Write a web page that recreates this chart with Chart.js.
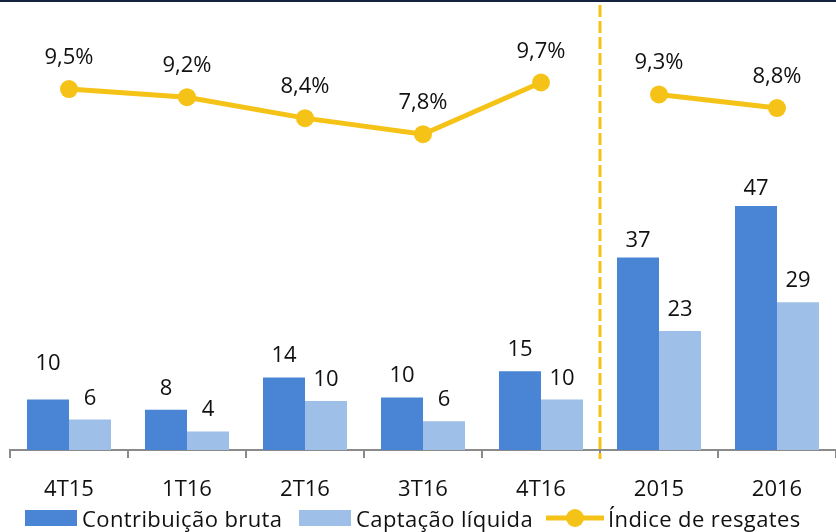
<!DOCTYPE html>
<html lang="pt-BR">
<head>
  <meta charset="UTF-8" />
  <title>Contribuição bruta, captação líquida e índice de resgates</title>
  <script src="https://cdn.jsdelivr.net/npm/chart.js"></script>
  <style>
    html, body {
      margin: 0;
      padding: 0;
      background: #fff;
    }
    #wrap {
      width: 836px;
      height: 532px;
    }
  </style>
</head>
<body>
  <div id="wrap"><canvas id="chart" width="836" height="532"></canvas></div>

  <script>
    // Data (R$ bi for bars, % for the line)
    const periods = ['4T15', '1T16', '2T16', '3T16', '4T16', '2015', '2016'];
    const contribuicaoBruta = [9.8, 7.8, 14.1, 10.2, 15.3, 37.4, 47.4];
    const captacaoLiquida = [5.9, 3.6, 9.5, 5.6, 9.8, 23.1, 28.7];
    const indiceResgates = [9.46, 9.16, 8.39, 7.8, 9.7, 9.26, 8.76];
    const lastQuarter = 4; // quarters end here, yearly totals follow

    const DARK = '#4985d4';
    const LIGHT = '#9ebfe7';
    const GOLD = '#f5c317';
    const AXIS = '#8a8a8a';
    const FONT = '22px "Open Sans", sans-serif';

    // extra lift for a few bar labels, like the original
    const darkLabelNudge = [15, 0, 0, 0, 0, -5, -4];

    Chart.defaults.font.family = '"Open Sans", sans-serif';

    // value labels above bars and points
    const valueLabels = {
      id: 'valueLabels',
      afterDatasetsDraw(chart) {
        const ctx = chart.ctx;
        ctx.save();
        ctx.font = FONT;
        ctx.fillStyle = '#111';
        ctx.textAlign = 'center';
        ctx.textBaseline = 'alphabetic';
        chart.data.datasets.forEach((ds, i) => {
          chart.getDatasetMeta(i).data.forEach((el, j) => {
            const v = ds.data[j];
            if (ds.type === 'line') {
              ctx.fillText(v.toFixed(1).replace('.', ',') + '%', el.x, el.y - 25);
            } else {
              const nudge = i === 0 ? darkLabelNudge[j] : 0;
              ctx.fillText(String(Math.round(v)), el.x, el.y - 15 - nudge);
            }
          });
        });
        ctx.restore();
      }
    };

    // dashed separator between quarters and years, plus the top rule
    const separator = {
      id: 'separator',
      beforeDraw(chart) {
        const ctx = chart.ctx;
        ctx.save();
        ctx.fillStyle = '#13233d';
        ctx.fillRect(0, 0, chart.width, 2);
        ctx.restore();
      },
      afterDatasetsDraw(chart) {
        const x = chart.scales.x;
        const px = (x.getPixelForValue(lastQuarter) + x.getPixelForValue(lastQuarter + 1)) / 2;
        const ctx = chart.ctx;
        ctx.save();
        ctx.strokeStyle = GOLD;
        ctx.lineWidth = 3;
        ctx.setLineDash([12, 4]);
        ctx.beginPath();
        ctx.moveTo(px, 5);
        ctx.lineTo(px, chart.chartArea.bottom + 9);
        ctx.stroke();
        ctx.restore();
      }
    };

    // legend drawn by hand so the line entry gets its marker
    const legendRow = {
      id: 'legendRow',
      afterDraw(chart) {
        const ctx = chart.ctx;
        const y = 518;
        const starts = [25, 299, 546];
        ctx.save();
        ctx.font = FONT;
        ctx.letterSpacing = '0.4px';
        ctx.textBaseline = 'alphabetic';
        chart.data.datasets.forEach((ds, i) => {
          const x0 = starts[i];
          let tx;
          if (ds.type === 'line') {
            ctx.strokeStyle = ds.borderColor;
            ctx.lineWidth = 5;
            ctx.beginPath();
            ctx.moveTo(x0, y);
            ctx.lineTo(x0 + 58, y);
            ctx.stroke();
            ctx.fillStyle = ds.borderColor;
            ctx.beginPath();
            ctx.arc(x0 + 29, y, 9, 0, Math.PI * 2);
            ctx.fill();
            tx = x0 + 62;
          } else {
            ctx.fillStyle = ds.backgroundColor;
            ctx.fillRect(x0, y - 8, 52, 16);
            tx = x0 + 57;
          }
          ctx.fillStyle = '#111';
          ctx.fillText(ds.label, tx, y + 8.5);
        });
        ctx.restore();
      }
    };

    new Chart(document.getElementById('chart'), {
      type: 'bar',
      data: {
        labels: periods,
        datasets: [
          {
            label: 'Contribuição bruta',
            data: contribuicaoBruta,
            backgroundColor: DARK,
            yAxisID: 'y',
            order: 2
          },
          {
            label: 'Captação líquida',
            data: captacaoLiquida,
            backgroundColor: LIGHT,
            yAxisID: 'y',
            order: 2
          },
          {
            type: 'line',
            label: 'Índice de resgates',
            data: indiceResgates,
            borderColor: GOLD,
            backgroundColor: GOLD,
            borderWidth: 5,
            pointRadius: 9,
            pointBorderWidth: 0,
            pointBackgroundColor: GOLD,
            tension: 0,
            yAxisID: 'y2',
            order: 0,
            segment: {
              borderColor: ctx => ctx.p0DataIndex === lastQuarter ? 'rgba(0,0,0,0)' : GOLD
            }
          }
        ]
      },
      options: {
        responsive: false,
        animation: false,
        devicePixelRatio: 1,
        layout: {
          autoPadding: false,
          padding: { left: 10, right: 0, top: 30, bottom: 22 }
        },
        datasets: {
          bar: { categoryPercentage: 0.712, barPercentage: 1.0 }
        },
        plugins: {
          legend: { display: false },
          tooltip: { enabled: false }
        },
        scales: {
          x: {
            afterFit: s => { s.height = 60; },
            grid: {
              offset: true,
              drawOnChartArea: false,
              drawTicks: true,
              tickLength: 8,
              color: AXIS,
              lineWidth: 2
            },
            border: { color: AXIS, width: 2 },
            ticks: {
              color: '#111',
              padding: 19,
              font: { size: 22 }
            }
          },
          y: { display: false, min: 0, max: 81.55 },
          y2: { display: false, min: -3.81, max: 11.63 }
        }
      },
      plugins: [separator, valueLabels, legendRow]
    });
  </script>
</body>
</html>
